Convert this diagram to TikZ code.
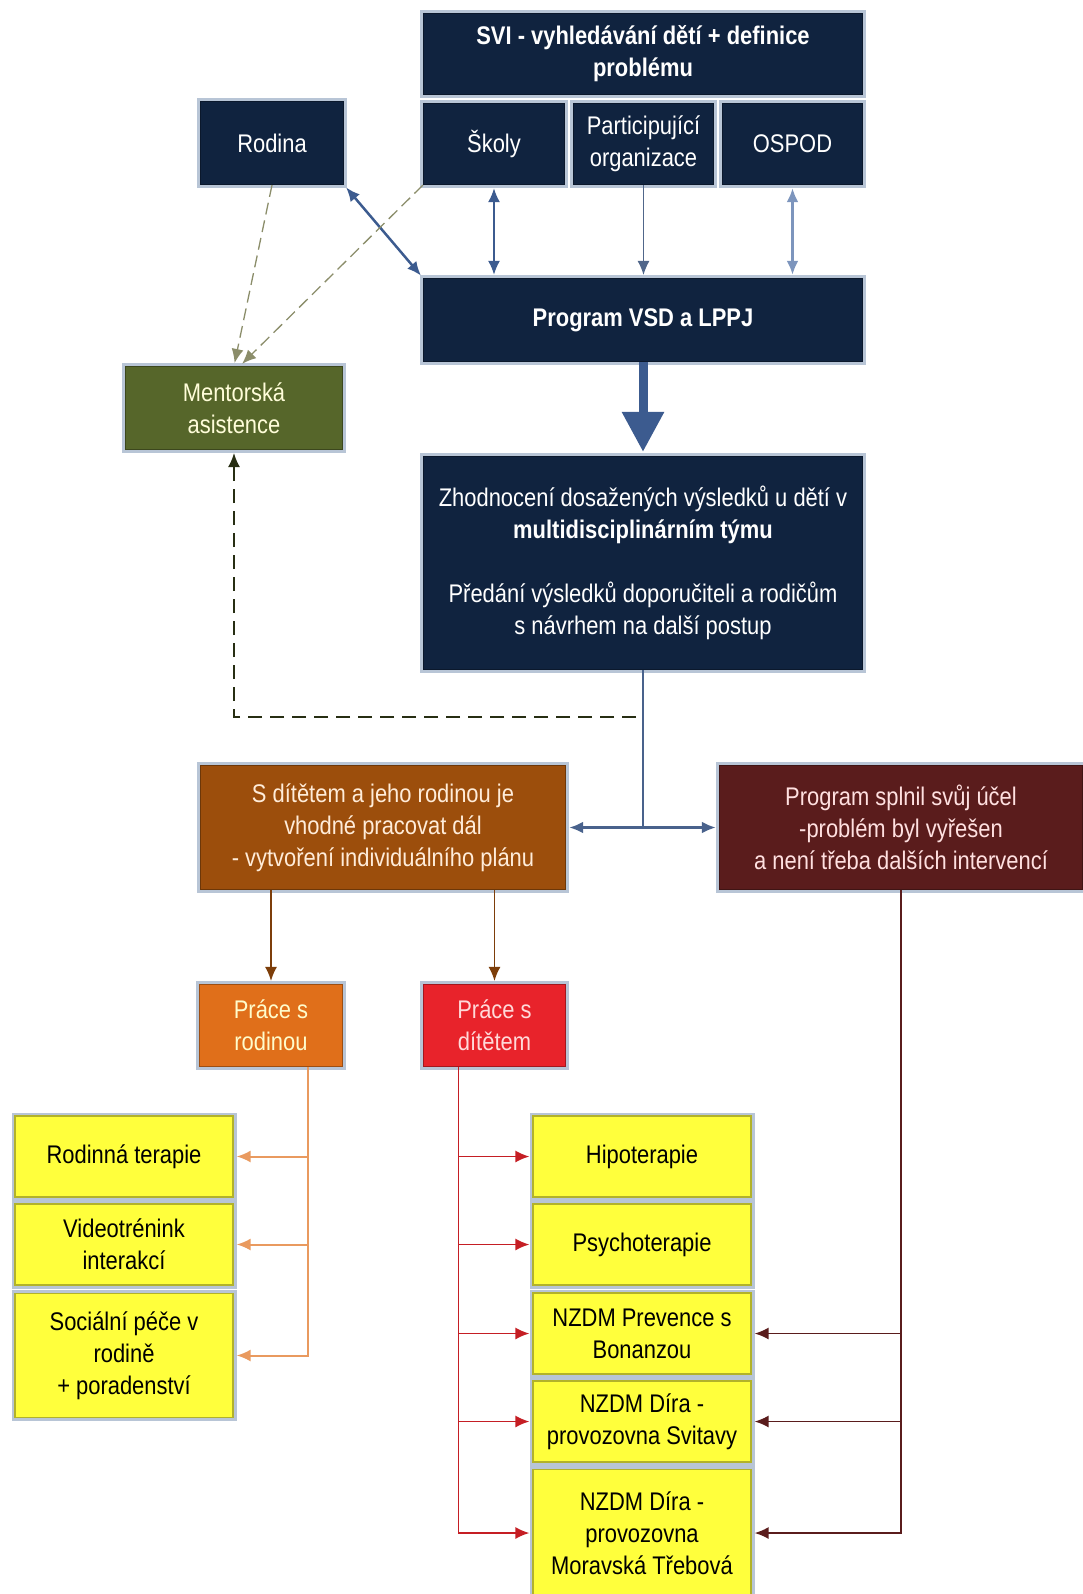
\documentclass[tikz,border=0pt]{standalone}
\usepackage{fontspec}
\setmainfont{Liberation Sans}[FakeStretch=0.86]
\usetikzlibrary{arrows.meta}
\definecolor{navy}{HTML}{10233F}
\definecolor{frame}{HTML}{B8C5D6}
\definecolor{olive}{HTML}{56662A}
\definecolor{rust}{HTML}{9C4E0C}
\definecolor{maroon}{HTML}{5A1C1C}
\definecolor{orng}{HTML}{E06F1A}
\definecolor{rd}{HTML}{E8232B}
\definecolor{yel}{HTML}{FFFF3C}
\definecolor{steel}{HTML}{3C5B8F}
\definecolor{paleblue}{HTML}{7D95BD}
\definecolor{dashcol}{HTML}{8B8D6A}
\begin{document}
\begin{tikzpicture}[x=1pt,y=-1pt,font=\fontsize{25.5}{32}\selectfont,
  box/.style={preaction={draw=frame,line width=7pt},draw=#1!70!black,fill=#1,line width=1.2pt,align=center,inner sep=1pt},
  navybox/.style={box=navy,text=white},
  yelbox/.style={box=yel,text=black,minimum width=218pt,minimum height=81pt},
  arr/.style={-{Latex[length=14pt,width=12pt]},shorten >=3pt},
  darr/.style={{Latex[length=14pt,width=12pt]}-{Latex[length=14pt,width=12pt]},shorten >=3pt,shorten <=3pt}]
\useasboundingbox (0,0) rectangle (1083,1594);
\node[navybox,font=\fontsize{25.5}{32}\selectfont\bfseries,minimum width=439pt,minimum height=81pt] (svi) at (643,54)
  {SVI - vyhledávání dětí + definice\\problému};
\node[navybox,minimum width=141pt,minimum height=81pt] (skoly) at (494,144) {Školy};
\node[navybox,minimum width=140pt,minimum height=81pt] (partic) at (643.5,144) {Participující\\organizace};
\node[navybox,minimum width=140pt,minimum height=81pt] (ospod) at (792.5,144) {OSPOD};
\node[navybox,minimum width=143pt,minimum height=83pt] (rodina) at (272,143) {Rodina};
\node[navybox,font=\fontsize{25.5}{32}\selectfont\bfseries,minimum width=439pt,minimum height=83pt] (program) at (643,320)
  {Program VSD a LPPJ};
\node[box=olive,text=white!85!yellow,minimum width=217pt,minimum height=83pt] (mentor) at (234,408) {Mentorská\\asistence};
\node[navybox,minimum width=439pt,minimum height=213pt] (zhod) at (643,563)
  {Zhodnocení dosažených výsledků u dětí v\\\textbf{multidisciplinárním týmu}\\[32pt]
   Předání výsledků doporučiteli a rodičům\\s návrhem na další postup};
\node[box=rust,text=white!85!orange,minimum width=365pt,minimum height=124pt] (sdit) at (383,827.5)
  {S dítětem a jeho rodinou je\\vhodné pracovat dál\\- vytvoření individuálního plánu};
\node[box=maroon,text=white!88!red,minimum width=363pt,minimum height=124pt] (splnil) at (901,827.5)
  {Program splnil svůj účel\\-problém byl vyřešen\\a není třeba dalších intervencí};
\node[box=orng,text=white!80!yellow,minimum width=143pt,minimum height=82pt] (prrod) at (271,1025.5) {Práce s\\rodinou};
\node[box=rd,text=white!85!red,minimum width=142pt,minimum height=82pt] (prdit) at (494.5,1025.5) {Práce s\\dítětem};
\node[yelbox] (rodter) at (124,1156.5) {Rodinná terapie};
\node[yelbox] (video) at (124,1244.5) {Videotrénink\\interakcí};
\node[yelbox,minimum height=124pt] (social) at (124,1355.5) {Sociální péče v\\rodině\\+ poradenství};
\node[yelbox] (hipo) at (642,1156.5) {Hipoterapie};
\node[yelbox] (psycho) at (642,1244.5) {Psychoterapie};
\node[yelbox] (nzdm1) at (642,1333.5) {NZDM Prevence s\\Bonanzou};
\node[yelbox] (nzdm2) at (642,1421.5) {NZDM Díra -\\provozovna Svitavy};
\node[yelbox,minimum height=127pt] (nzdm3) at (642,1533) {NZDM Díra -\\provozovna\\Moravská Třebová};
\draw[steel,line width=2.5pt,darr] (rodina.south east) -- (program.north west);
\draw[steel,line width=2pt,darr] (skoly.south) -- (skoly.south |- program.north);
\draw[steel!70!gray,line width=1.2pt,arr] (partic.south) -- (partic.south |- program.north);
\draw[paleblue,line width=3pt,darr] (ospod.south) -- (ospod.south |- program.north);
\draw[dashcol,line width=1.3pt,dash pattern=on 12pt off 6pt,arr] (rodina.south) -- (mentor.north);
\draw[dashcol,line width=1.3pt,dash pattern=on 12pt off 6pt,arr] (skoly.south west) -- ([xshift=6pt]mentor.north);
\draw[steel,line width=9pt,-{Triangle[length=40pt,width=40pt]},shorten >=4pt] (program.south) -- (zhod.north);
\coordinate (split) at (zhod.south |- sdit.east);
\draw[steel!80!gray,line width=1.5pt] (zhod.south) -- (split);
\draw[steel!80!gray,line width=3pt,darr] (sdit.east) -- (splnil.west);
\coordinate (fb) at (636,717);
\draw[black!55!olive,line width=1.5pt,dash pattern=on 14pt off 8pt,arr] (fb) -| (mentor.south);
\draw[rust!80!black,line width=1.5pt,arr] (prrod.north |- sdit.south) -- (prrod.north);
\draw[rust!80!black,line width=1.5pt,arr] (prdit.north |- sdit.south) -- (prdit.north);
\coordinate (rt) at ([xshift=37pt]prrod.south);
\draw[orng!70!white,line width=2pt,arr] (rt) |- (social.east);
\foreach \n in {rodter,video}
  \draw[orng!70!white,line width=2pt,arr] (rt |- \n.east) -- (\n.east);
\coordinate (dt) at ([xshift=-36pt]prdit.south);
\draw[rd!85!black,line width=1.6pt,arr] (dt) |- (nzdm3.west);
\foreach \n in {hipo,psycho,nzdm1,nzdm2}
  \draw[rd!85!black,line width=1.6pt,arr] (dt |- \n.west) -- (\n.west);
\draw[maroon,line width=1.6pt,arr] (splnil.south) |- (nzdm3.east);
\foreach \n in {nzdm1,nzdm2}
  \draw[maroon,line width=1.6pt,arr] (splnil.south |- \n.east) -- (\n.east);
\end{tikzpicture}
\end{document}
